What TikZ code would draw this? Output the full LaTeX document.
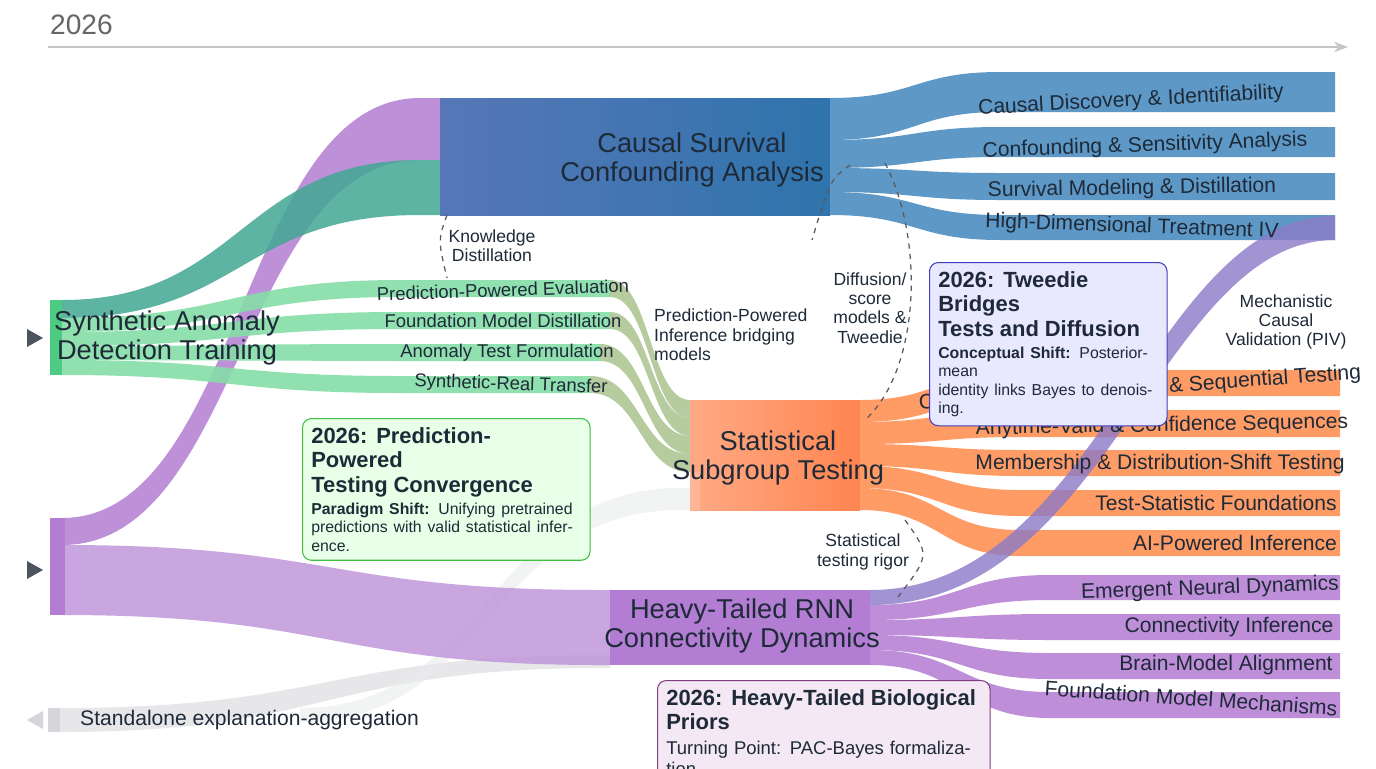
\documentclass[tikz,border=0pt]{standalone}
\usepackage{fontspec}
\setmainfont{Liberation Sans}
\usetikzlibrary{arrows.meta}
\definecolor{bmain}{HTML}{2F74AC}
\definecolor{bout}{HTML}{5E98C6}
\definecolor{gmain}{HTML}{4DCB82}
\definecolor{gout}{HTML}{86DDA8}
\definecolor{omain}{HTML}{FF8550}
\definecolor{oout}{HTML}{FF9C66}
\definecolor{pmain}{HTML}{B27DD2}
\definecolor{pout}{HTML}{BE8ED9}
\definecolor{gry}{HTML}{D4D6DA}
\definecolor{txt}{HTML}{1E2A38}
\newcommand\flw[8]{\fill[#1] (#2,#3) .. controls ({(#2+#5)/2},#3) and ({(#2+#5)/2},#6) .. (#5,#6) -- (#8,#6) -- (#8,#7) -- (#5,#7) .. controls ({(#2+#5)/2},#7) and ({(#2+#5)/2},#4) .. (#2,#4) -- cycle;}
\tikzset{
 lbl/.style={font=\fontsize{10.5pt}{12pt}\selectfont, text=txt},
 big/.style={font=\fontsize{15.5pt}{17pt}\selectfont, text=txt, align=center},
 ann/.style={font=\fontsize{10pt}{11pt}\selectfont, text=txt, align=center},
 callout/.style={draw=#1!50!gray, fill=#1!9, rounded corners=5pt, line width=0.6pt, align=left, text=txt, inner sep=5pt},
 dsh/.style={draw=gray!70!black, dashed, line width=0.7pt}
}
\newcommand\ctitle{\bfseries\fontsize{12.5pt}{14pt}\selectfont}
\newcommand\cbody{\fontsize{9pt}{10.5pt}\selectfont}
\begin{document}
\begin{tikzpicture}[x=0.02cm,y=-0.02cm]
\useasboundingbox (0,0) rectangle (1376,768);
\fill[white] (0,0) rectangle (1376,768);
% timeline
\node[anchor=west, text=gray!80!black, font=\fontsize{16pt}{17pt}\selectfont] (yr) at (44,25) {2026};
\coordinate (tl0) at (48,47); \coordinate (tl1) at (1348,47);
\draw[gray!45, line width=1pt, -{Stealth[length=8pt]}] (tl0) -- (tl1);
% gray flows
\flw{gry!70,opacity=0.8}{60}{708}{732}{600}{655}{668}{610}
\flw{gry!50,opacity=0.6}{300}{708}{722}{680}{488}{510}{690}
\fill[gry] (48,708) rectangle (60,732);
% purple to blue
\flw{pmain,opacity=0.85}{62}{518}{545}{420}{98}{160}{445}
% green to blue
\flw{gmain!60!bmain,opacity=0.85}{62}{300}{318}{420}{160}{215}{445}
% blue trunk
\shade[left color=bmain!70!pmain, right color=bmain] (440,98) rectangle (830,215);
\flw{bout}{830}{98}{140}{1000}{72}{112}{1335}
\flw{bout}{830}{140}{168}{1000}{127}{157}{1335}
\flw{bout}{830}{168}{192}{1000}{173}{200}{1335}
\flw{bout}{830}{192}{215}{1000}{215}{240}{1335}
% green flows
\flw{gout,opacity=0.9}{62}{318}{332}{400}{280}{297}{610}
\flw{gout,opacity=0.9}{62}{332}{346}{400}{312}{329}{610}
\flw{gout,opacity=0.9}{62}{346}{360}{400}{344}{361}{600}
\flw{gout,opacity=0.9}{62}{360}{375}{400}{376}{393}{590}
\flw{gout!70!omain,opacity=0.85}{610}{280}{297}{690}{400}{418}{690}
\flw{gout!70!omain,opacity=0.85}{610}{312}{329}{690}{418}{436}{690}
\flw{gout!70!omain,opacity=0.85}{600}{344}{361}{690}{436}{454}{690}
\flw{gout!70!omain,opacity=0.85}{590}{376}{393}{690}{454}{472}{690}
\fill[gmain] (50,300) rectangle (62,375);
% orange trunk
\shade[left color=omain!70!white, right color=omain] (690,400) rectangle (860,510);
\fill[omain!60!white] (690,472) rectangle (700,510);
\flw{oout}{860}{400}{422}{1020}{370}{396}{1340}
\flw{oout}{860}{422}{444}{1020}{410}{437}{1340}
\flw{oout}{860}{444}{466}{1020}{450}{476}{1340}
\flw{oout}{860}{466}{488}{1020}{490}{516}{1340}
\flw{oout}{860}{488}{510}{1020}{530}{556}{1340}
% purple trunk
\flw{pmain!80!white,opacity=0.85}{62}{545}{615}{600}{590}{665}{610}
\fill[pmain] (610,590) rectangle (870,665);
\flw{pout}{870}{605}{620}{1050}{575}{600}{1340}
\flw{pout}{870}{620}{635}{1050}{614}{640}{1340}
\flw{pout}{870}{635}{650}{1050}{653}{679}{1340}
\flw{pout}{870}{650}{665}{1050}{692}{718}{1340}
\fill[pmain!70!bmain,opacity=0.8] (870,590) .. controls (1100,590) and (1150,216) .. (1335,216) -- (1335,240) .. controls (1160,240) and (1110,605) .. (870,605) -- cycle;
\fill[pmain] (50,518) rectangle (65,615);
% markers
\fill[txt!80] (27,329) -- (43,338) -- (27,347) -- cycle;
\fill[txt!80] (27,561) -- (43,570) -- (27,579) -- cycle;
\fill[gry] (43,711) -- (27,720) -- (43,729) -- cycle;
% main nodes
\node[big] (syn) at (167,338) {Synthetic Anomaly\\Detection Training};
\node[big] (csc) at (692,160) {Causal Survival\\Confounding Analysis};
\node[big] (sst) at (778,458) {Statistical\\Subgroup Testing};
\node[big] (htr) at (742,626) {Heavy-Tailed RNN\\Connectivity Dynamics};
\node[lbl, anchor=west, font=\fontsize{12pt}{13pt}\selectfont] (sea) at (74,720) {Standalone explanation-aggregation};
% flow labels
\node[lbl, font=\fontsize{12pt}{13pt}\selectfont, rotate=3] (l1) at (1131,101) {Causal Discovery \& Identifiability};
\node[lbl, font=\fontsize{12pt}{13pt}\selectfont, rotate=2] (l2) at (1145,146) {Confounding \& Sensitivity Analysis};
\node[lbl, font=\fontsize{12pt}{13pt}\selectfont, rotate=1] (l3) at (1132,189) {Survival Modeling \& Distillation};
\node[lbl, font=\fontsize{12pt}{13pt}\selectfont, rotate=-2] (l4) at (1132,227) {High-Dimensional Treatment IV};
\node[lbl, rotate=2] (g1) at (503,290) {Prediction-Powered Evaluation};
\node[lbl] (g2) at (503,321) {Foundation Model Distillation};
\node[lbl] (g3) at (507,353) {Anomaly Test Formulation};
\node[lbl, rotate=-2] (g4) at (511,385) {Synthetic-Real Transfer};
\node[lbl, font=\fontsize{12pt}{13pt}\selectfont, rotate=4] (o1) at (1140,389) {Conditional Independence \& Sequential Testing};
\node[lbl, font=\fontsize{12pt}{13pt}\selectfont, rotate=1] (o2) at (1162,426) {Anytime-Valid \& Confidence Sequences};
\node[lbl, font=\fontsize{12pt}{13pt}\selectfont] (o3) at (1160,464) {Membership \& Distribution-Shift Testing};
\node[lbl, font=\fontsize{12pt}{13pt}\selectfont] (o4) at (1216,503) {Test-Statistic Foundations};
\node[lbl, font=\fontsize{12pt}{13pt}\selectfont] (o5) at (1235,543) {AI-Powered Inference};
\node[lbl, font=\fontsize{12pt}{13pt}\selectfont, rotate=2] (p1) at (1210,589) {Emergent Neural Dynamics};
\node[lbl, font=\fontsize{12pt}{13pt}\selectfont] (p2) at (1229,627) {Connectivity Inference};
\node[lbl, font=\fontsize{12pt}{13pt}\selectfont] (p3) at (1226,665) {Brain-Model Alignment};
\node[lbl, font=\fontsize{12pt}{13pt}\selectfont, rotate=-4] (p4) at (1191,698) {Foundation Model Mechanisms};
% annotations
\node[ann] (kd) at (492,246) {Knowledge\\Distillation};
\coordinate (kd0) at (447,215); \coordinate (kd1) at (447,278);
\draw[dsh] (kd0) .. controls (438,240) .. (kd1);
\node[ann, align=left, anchor=west] (ppi) at (648,335) {Prediction-Powered\\Inference bridging\\models};
\node[ann] (dif) at (870,308) {Diffusion/\\score\\models \&\\Tweedie};
\coordinate (d0) at (885,163); \coordinate (d1) at (865,420);
\draw[dsh] (d0) .. controls (925,240) and (920,370) .. (d1);
\coordinate (d2) at (850,165); \coordinate (d3) at (812,240);
\draw[dsh] (d2) .. controls (830,180) .. (d3);
\node[ann] (mcv) at (1286,322) {Mechanistic\\Causal\\Validation (PIV)};
\node[ann] (str) at (863,552) {Statistical\\testing rigor};
\coordinate (s0) at (905,520); \coordinate (s1) at (898,597);
\draw[dsh] (s0) .. controls (930,555) .. (s1);
% callouts
\node[callout=green, anchor=north west, text width=5.4cm] (c1) at (302,418) {{\ctitle 2026: Prediction-Powered\\Testing Convergence\par}\vspace{2pt}
{\cbody\textbf{Paradigm Shift:} Unifying pretrained\\predictions with valid statistical inference.\par}};
\node[callout=blue, anchor=north west, text width=4.4cm] (c2) at (929,262) {{\ctitle 2026: Tweedie Bridges\\Tests and Diffusion\par}\vspace{2pt}
{\cbody\textbf{Conceptual Shift:} Posterior-mean\\identity links Bayes to denoising.\par}};
\node[callout=violet, anchor=north west, text width=6.3cm] (c3) at (657,680) {{\ctitle 2026: Heavy-Tailed Biological Priors\par}\vspace{2pt}
{\fontsize{10.5pt}{12pt}\selectfont Turning Point: PAC-Bayes formalization\\for biological dynamics.\par}};
\end{tikzpicture}
\end{document}
